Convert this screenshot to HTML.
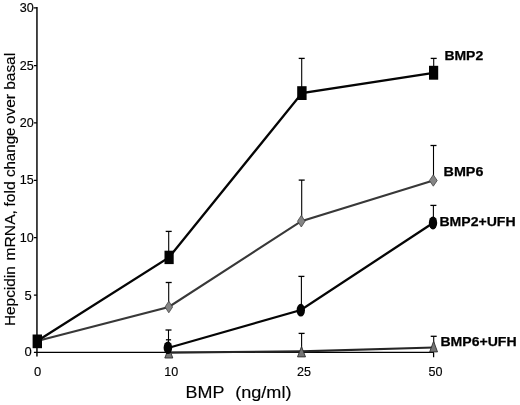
<!DOCTYPE html>
<html><head><meta charset="utf-8"><title>Hepcidin mRNA chart</title>
<style>
html,body{margin:0;padding:0;background:#fff;}
body{width:520px;height:405px;overflow:hidden;}
svg{display:block;}
text{font-family:"Liberation Sans",Arial,Helvetica,sans-serif;fill:#000;}
.tk{font-size:13px;stroke:#000;stroke-width:0.15px;}
.ax{stroke:#000;stroke-width:0.15px;}
.lb{font-size:13.6px;font-weight:bold;fill:#000;stroke:#000;stroke-width:0.25px;}
</style></head><body>
<svg width="520" height="405" viewBox="0 0 520 405">
<rect width="520" height="405" fill="#fff"/>
<!-- axes -->
<g stroke="#000" stroke-width="1.45" fill="none">
<path d="M36.95 7.1V356.4"/>
</g>
<g stroke="#000" stroke-width="1.25" fill="none">
<path d="M33.9 352.4H434"/>
<path d="M33.6 7.8H37M33.9 65.6H37M33.9 122.9H37M33.9 180.3H37M33.9 237.7H37M33.9 295.2H37"/>
<path d="M168.6 352.4v4.6M301.4 352.4v4.6M433.6 352.4v4.8"/>
</g>
<!-- y tick labels -->
<g class="tk" text-anchor="end">
<text x="33.7" y="11.8" textLength="14.0" lengthAdjust="spacingAndGlyphs">30</text>
<text x="33.7" y="69.7" textLength="14.0" lengthAdjust="spacingAndGlyphs">25</text>
<text x="33.7" y="126.9" textLength="14.0" lengthAdjust="spacingAndGlyphs">20</text>
<text x="33.7" y="184.4" textLength="14.0" lengthAdjust="spacingAndGlyphs">15</text>
<text x="33.7" y="241.8" textLength="14.0" lengthAdjust="spacingAndGlyphs">10</text>
<text x="31.7" y="299.6">5</text>
<text x="31.7" y="356.4">0</text>
</g>
<!-- x tick labels -->
<g class="tk" text-anchor="middle">
<text x="37.6" y="376.2">0</text>
<text x="171.3" y="376.2" textLength="14.0" lengthAdjust="spacingAndGlyphs">10</text>
<text x="304.0" y="376.2" textLength="14.0" lengthAdjust="spacingAndGlyphs">25</text>
<text x="435.4" y="376.2" textLength="14.0" lengthAdjust="spacingAndGlyphs">50</text>
</g>
<text class="ax" x="185.6" y="397.8" font-size="16.6" textLength="38.9" lengthAdjust="spacingAndGlyphs">BMP</text>
<text class="ax" x="235.2" y="397.8" font-size="16.6" textLength="56.3" lengthAdjust="spacingAndGlyphs">(ng/ml)</text>
<g class="ax" font-size="14.6">
<text transform="translate(15.1,326.1) rotate(-90)" textLength="59.95" lengthAdjust="spacingAndGlyphs">Hepcidin</text>
<text transform="translate(15.1,260.4) rotate(-90)" textLength="50.3" lengthAdjust="spacingAndGlyphs">mRNA,</text>
<text transform="translate(15.1,206.6) rotate(-90)" textLength="25.2" lengthAdjust="spacingAndGlyphs">fold</text>
<text transform="translate(15.1,177.1) rotate(-90)" textLength="49.6" lengthAdjust="spacingAndGlyphs">change</text>
<text transform="translate(15.1,123.99) rotate(-90)" textLength="29.97" lengthAdjust="spacingAndGlyphs">over</text>
<text transform="translate(15.1,89.74) rotate(-90)" textLength="36.83" lengthAdjust="spacingAndGlyphs">basal</text>
</g>

<!-- error bars -->
<g stroke="#000" fill="none">
<path stroke-width="1.1" d="M168.7 257V231.4"/><path stroke-width="1.3" d="M165.7 231.4h6.0"/>
<path stroke-width="1.1" d="M301.7 93V58.4"/><path stroke-width="1.3" d="M298.7 58.4h6.0"/>
<path stroke-width="1.1" d="M433.7 72V58.4"/><path stroke-width="1.3" d="M430.7 58.4h6.0"/>
<path stroke-width="1.1" d="M168.7 307V282.5"/><path stroke-width="1.3" d="M165.7 282.5h6.0"/>
<path stroke-width="1.1" d="M301.7 221V180.1"/><path stroke-width="1.3" d="M298.7 180.1h6.0"/>
<path stroke-width="1.1" d="M433.5 180V145.5"/><path stroke-width="1.3" d="M430.5 145.5h6.0"/>
<path stroke-width="1.1" d="M168.5 348V330.0"/><path stroke-width="1.3" d="M165.5 330.0h6.0"/>
<path stroke-width="1.1" d="M301.4 310V276.4"/><path stroke-width="1.3" d="M298.4 276.4h6.0"/>
<path stroke-width="1.1" d="M433.4 223V205.4"/><path stroke-width="1.3" d="M430.4 205.4h6.0"/>
<path stroke-width="1.1" d="M168.5 352V339.8"/><path stroke-width="1.3" d="M165.9 339.8h5.2"/>
<path stroke-width="1.1" d="M301.6 350V333.4"/><path stroke-width="1.3" d="M298.6 333.4h6.0"/>
<path stroke-width="1.1" d="M433.7 345V336.3"/><path stroke-width="1.3" d="M430.7 336.3h6.0"/>
</g>

<!-- BMP6+UFH (triangles) -->
<polyline points="168.8,352.6 301.5,351.4 433.6,347.5" fill="none" stroke="#262626" stroke-width="2.1"/>
<g fill="#747474" stroke="#2e2e2e" stroke-width="0.9" stroke-linejoin="miter">
<path d="M168.8 347.6l4 10.4h-8z"/>
<path d="M301.5 346.6l4 10.3h-8z"/>
<path d="M433.6 341.2l3.9 10.7h-7.8z"/>
</g>

<!-- BMP6 (diamonds) -->
<polyline points="37.2,341 168.8,307 301.3,221.2 433.3,180.5" fill="none" stroke="#383838" stroke-width="2.1"/>
<g fill="#858585" stroke="#444" stroke-width="0.8">
<path d="M168.8 301.2l3.8 5.8l-3.8 5.8l-3.8-5.8z"/>
<path d="M301.3 215.4l3.8 5.8l-3.8 5.8l-3.8-5.8z"/>
<path d="M433.3 174.8l3.9 5.7l-3.9 5.7l-3.9-5.7z"/>
</g>

<!-- BMP2+UFH (ellipses) -->
<polyline points="168,348 300.9,310 433,223" fill="none" stroke="#050505" stroke-width="2.3"/>
<g fill="#030303">
<ellipse cx="167.9" cy="347.8" rx="4.3" ry="6.3"/>
<ellipse cx="300.8" cy="310.2" rx="4.2" ry="6.4"/>
<ellipse cx="433" cy="222.9" rx="4.2" ry="6.5"/>
</g>

<!-- BMP2 (squares) -->
<polyline points="37.2,341 169,257.4 302,93 433.6,72.8" fill="none" stroke="#050505" stroke-width="2.3"/>
<g fill="#030303">
<rect x="32.6" y="334.5" width="9.4" height="13.7"/>
<rect x="164.5" y="250.7" width="9.2" height="13.4"/>
<rect x="297.2" y="86.2" width="9.4" height="13.8"/>
<rect x="429" y="65.8" width="9.2" height="13.9"/>
</g>

<!-- series labels -->
<g class="lb">
<text x="444.4" y="59.8" textLength="38.8" lengthAdjust="spacingAndGlyphs">BMP2</text>
<text x="443.6" y="175.9" textLength="39.8" lengthAdjust="spacingAndGlyphs">BMP6</text>
<text x="439.4" y="225.7" textLength="76.2" lengthAdjust="spacingAndGlyphs">BMP2+UFH</text>
<text x="440.4" y="345.8" textLength="76.2" lengthAdjust="spacingAndGlyphs">BMP6+UFH</text>
</g>
</svg>
</body></html>
